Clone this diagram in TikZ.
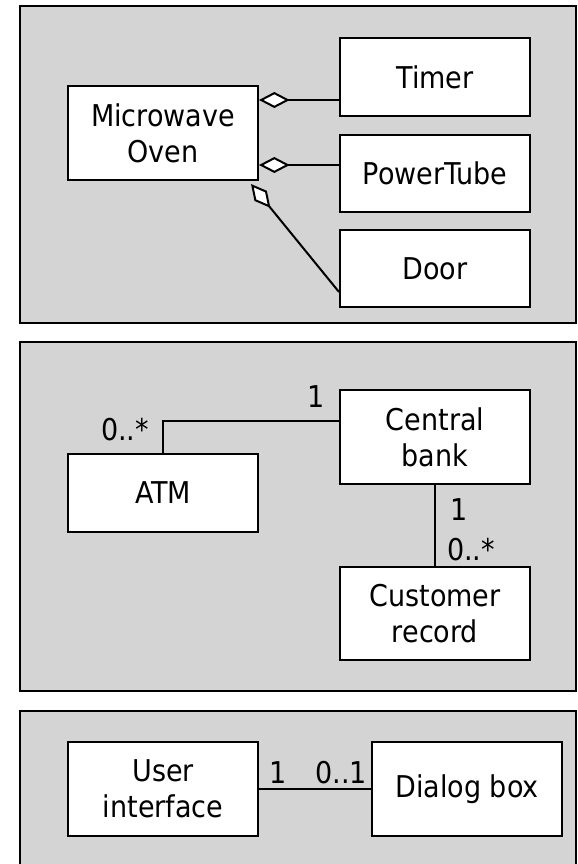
\documentclass[tikz,border=0pt]{standalone}
\usepackage{fontspec}
\setmainfont{DejaVu Sans Condensed}
\usetikzlibrary{arrows.meta}

\definecolor{panelgray}{RGB}{212,212,212}

\tikzset{every picture/.style={line width=1.5pt}}
\tikzset{
  classbox/.style={draw, fill=white, minimum width=142.5pt, align=center, inner sep=0pt,
    font=\fontsize{22.5}{27}\selectfont},
  panel/.style={draw, fill=panelgray},
  mult/.style={inner sep=0pt, font=\fontsize{22.5}{27}\selectfont},
  aggr/.style={{Diamond[length=23pt, width=12pt, fill=white]}-}
}

\begin{document}
\begin{tikzpicture}[x=0.75pt,y=0.75pt,yscale=-1,xscale=1]
    \useasboundingbox (0,0) rectangle (578,864);

    %Shape: Rectangle (panel 1)
    \draw[panel] (20,6) rectangle (576,323);
    %Shape: Rectangle (panel 2)
    \draw[panel] (20,342) rectangle (576,691);
    %Shape: Rectangle (panel 3)
    \draw[panel] (20,711) rectangle (576,900);

    % Class boxes, aggregation
    \node[classbox, minimum height=70.5pt] (oven) at (163,133) {Microwave\\Oven};
    \node[classbox, minimum height=58.5pt] (timer) at (435,77) {Timer};
    \node[classbox, minimum height=57.75pt] (tube) at (435,173.5) {PowerTube};
    \node[classbox, minimum height=57.75pt] (door) at (435,268.5) {Door};

    %Straight Lines
    \draw[aggr] (oven.east |- 0,100) -- (timer.west |- 0,100);
    %Straight Lines
    \draw[aggr] (oven.east |- 0,165) -- (tube.west |- 0,165);
    %Straight Lines
    \draw[aggr] ([shift={(-8,3)}]oven.south east) -- (door.west |- 0,292);

    % Class boxes, bank
    \node[classbox, minimum height=58.5pt] (atm) at (163,493) {ATM};
    \node[classbox, minimum height=70.5pt] (bank) at (435,437) {Central\\bank};
    \node[classbox, minimum height=69.75pt] (record) at (435,613.5) {Customer\\record};

    %Straight Lines
    \draw (atm.north) |- (bank.west |- 0,421);
    %Straight Lines
    \draw (bank.south) -- (record.north);

    % Text Node
    \node[mult, anchor=base] (atmmult) at (125,440) {0..*};
    % Text Node
    \node[mult, anchor=base] (bankmult) at (316,407) {1};
    % Text Node
    \node[mult, anchor=base west] (banktop) at (449,520) {1};
    % Text Node
    \node[mult, anchor=base west] (recordmult) at (446,560) {0..*};

    % Class boxes, dialog
    \node[classbox, minimum height=70.5pt] (ui) at (163,789) {User\\interface};
    \node[classbox, minimum height=70.5pt] (dialog) at (467,789) {Dialog box};

    %Straight Lines
    \draw (ui.east) -- (dialog.west);

    % Text Node
    \node[mult, anchor=base west] (uimult) at (268,783) {1};
    % Text Node
    \node[mult, anchor=base east] (dialogmult) at (368,783) {0..1};

\end{tikzpicture}
\end{document}
